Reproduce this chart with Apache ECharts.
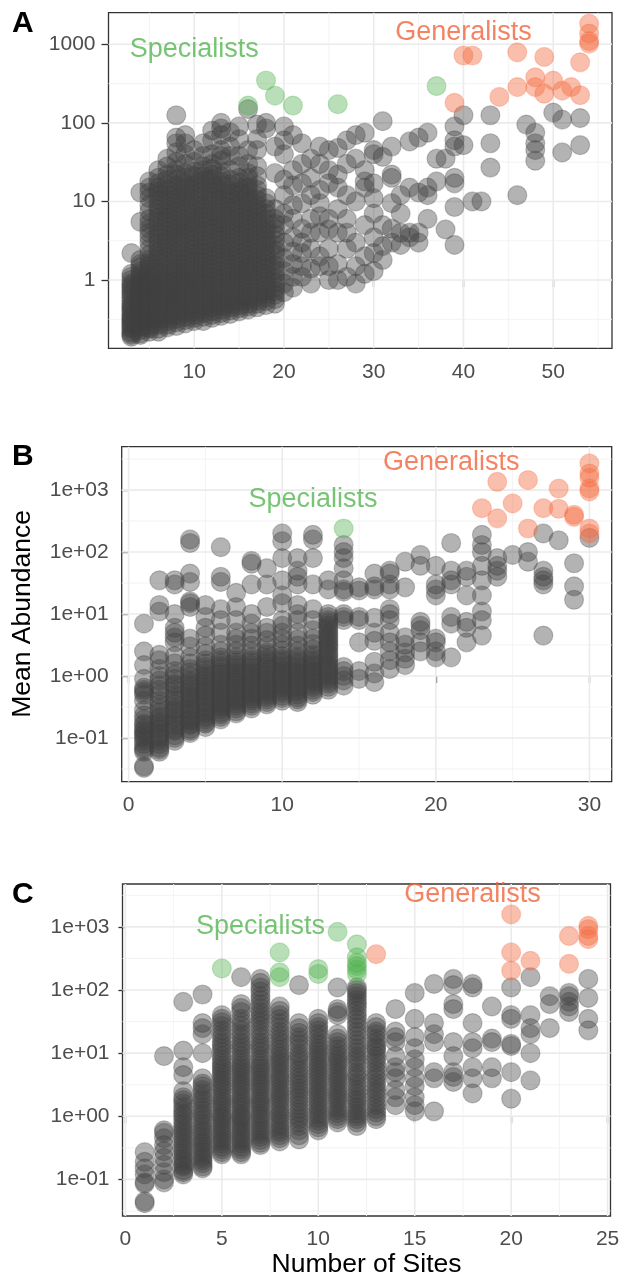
<!DOCTYPE html>
<html>
<head>
<meta charset="utf-8">
<script src="https://cdn.jsdelivr.net/npm/echarts@6/dist/echarts.min.js"></script>
<style>html,body{margin:0;padding:0;background:#fff}#c{width:630px;height:1285px}</style>
</head>
<body>
<div id="c"></div>
<script>
// ---------------- Panel A data (Number of Sites, Mean Abundance) ----------------
const greyA = [
  [3, [0.19,0.2,0.21,0.22,0.24,0.25,0.27,0.28,0.3,0.32,0.33,0.35,0.37,0.4,0.42,0.45,0.48,0.5,0.55,0.6,0.65,0.7,0.75,0.8,0.85,0.9,1.0,1.1,1.2,2.2]],
  [4, [0.2,0.21,0.23,0.25,0.26,0.28,0.3,0.33,0.35,0.38,0.4,0.43,0.46,0.5,0.52,0.56,0.6,0.65,0.7,0.75,0.8,0.88,0.95,1.0,1.1,1.2,1.3,1.45,1.6,1.8,5.5,13]],
  [5, [0.22,0.24,0.25,0.27,0.3,0.32,0.35,0.38,0.42,0.46,0.5,0.55,0.6,0.65,0.7,0.78,0.85,0.92,1.0,1.1,1.2,1.35,1.5,1.65,1.8,2.1,2.5,3,3.5,4,4.5,5.2,6,7.5,9,11,13,15,18]],
  [6, [0.22,0.24,0.27,0.3,0.33,0.36,0.4,0.45,0.5,0.55,0.6,0.67,0.75,0.82,0.9,1.0,1.1,1.25,1.4,1.6,1.8,2.05,2.3,2.6,3,3.5,4,4.7,5.5,6.2,7,8,9,10.5,12,13.5,15,17,20,25]],
  [7, [0.25,0.27,0.3,0.33,0.36,0.4,0.45,0.5,0.55,0.6,0.65,0.72,0.8,0.9,1,1.1,1.2,1.35,1.5,1.75,2,2.3,2.6,3,3.3,3.7,4.2,4.8,5.5,6.2,7,8,9,10.5,12,14,16,19,22,28,35]],
  [8, [0.26,0.29,0.32,0.36,0.4,0.45,0.5,0.55,0.6,0.67,0.75,0.82,0.9,1,1.1,1.25,1.4,1.6,1.8,2,2.3,2.6,3,3.5,4,4.5,5,5.7,6.5,7.5,8.5,9.7,11,12.5,14,16,19,22,25,32,42,55,65,125]],
  [9, [0.28,0.31,0.34,0.38,0.42,0.47,0.52,0.58,0.65,0.72,0.8,0.9,1,1.1,1.25,1.4,1.6,1.8,2,2.3,2.6,3,3.4,3.9,4.4,5,5.7,6.5,7.5,8.7,10,11.5,13,15,17,20,23,30,40,55,70]],
  [10, [0.3,0.33,0.36,0.4,0.45,0.5,0.55,0.62,0.7,0.77,0.85,0.95,1.05,1.15,1.3,1.5,1.7,1.9,2.2,2.5,2.8,3.2,3.6,4.1,4.7,5.3,6,7,8,9.2,10.5,12,14,16,18,21,24,32,45]],
  [11, [0.3,0.34,0.38,0.42,0.47,0.53,0.6,0.67,0.75,0.85,0.95,1.05,1.2,1.35,1.5,1.7,1.9,2.2,2.5,2.8,3.2,3.7,4.2,4.8,5.5,6.2,7,8,9,10.5,12,14,16,18.5,21,25,28,38,55]],
  [12, [0.33,0.36,0.4,0.45,0.5,0.56,0.62,0.7,0.78,0.88,1,1.1,1.25,1.4,1.6,1.8,2,2.3,2.6,3,3.4,3.9,4.4,5,5.7,6.5,7.5,8.7,10,11.5,13,15,17,19.5,22,26,30,40,60,80]],
  [13, [0.35,0.38,0.42,0.47,0.52,0.58,0.65,0.73,0.82,0.92,1.05,1.15,1.3,1.5,1.7,1.95,2.2,2.5,2.8,3.2,3.6,4.1,4.7,5.3,6,7,8,9.2,10.5,12,14,16,18,21,24,33,38,45,70,85,100]],
  [14, [0.37,0.41,0.45,0.5,0.55,0.62,0.7,0.78,0.88,1,1.1,1.25,1.4,1.6,1.8,2.05,2.3,2.6,3,3.4,3.9,4.4,5,5.7,6.5,7.5,8.5,9.7,11,12.5,14,16.5,19,25,38,50,76]],
  [15, [0.4,0.44,0.48,0.54,0.6,0.67,0.75,0.85,0.95,1.07,1.2,1.35,1.5,1.7,1.9,2.2,2.5,2.8,3.2,3.7,4.2,4.8,5.4,6.2,7,8,9,10.5,12,13.5,15,17.5,20,28,38,62,90]],
  [16, [0.42,0.46,0.5,0.56,0.62,0.7,0.8,0.9,1,1.15,1.3,1.45,1.6,1.85,2.1,2.4,2.7,3.1,3.5,4,4.5,5.1,5.8,6.6,7.5,8.7,10,11.5,13,15,17,20,23,30,45,150]],
  [17, [0.45,0.5,0.55,0.62,0.7,0.8,0.9,1,1.15,1.3,1.5,1.7,1.9,2.2,2.5,2.8,3.2,3.7,4.2,4.8,5.5,6.2,7,8,9,10.5,12,14,16,21,28,45,62,95]],
  [18, [0.48,0.54,0.6,0.67,0.75,0.85,0.95,1.07,1.2,1.4,1.6,1.8,2,2.3,2.7,3.1,3.5,4,4.5,5.2,6,7,8,9.5,11,85,100]],
  [19, [0.5,0.57,0.65,0.72,0.8,0.92,1.05,1.2,1.35,1.55,1.8,2.1,2.4,2.8,3.2,3.8,4.5,5.2,6,8,23,50]],
  [20, [0.7,0.9,1.3,1.9,3,5,7,12,19,40,60,90]],
  [21, [0.8,1.1,1.6,2.3,3.5,6,9,16,25,70]],
  [22, [1.1,1.5,2.2,3,4.5,9.5,17,30,55]],
  [23, [0.9,1.4,2.5,4,6,12,20,35]],
  [24, [1.5,2,4,6.5,9.5,14,30,50]],
  [25, [1,1.5,2.5,4.4,6,17,25,45]],
  [26, [1,1.6,4,8,15,22,48]],
  [27, [1.1,2.5,4,6,12,30,60]],
  [28, [0.9,1.5,3,10,35,70]],
  [29, [1.2,2,5,15,18,25,75]],
  [30, [1.3,2.2,3.5,7,11,17,40,45]],
  [31, [1.8,2.7,5,37,105]],
  [32, [3,4.5,9.5,20,22,50]],
  [33, [2.8,4,7,12]],
  [34, [3.5,4,15,58]],
  [35, [3,4,13,65]],
  [36, [6,12,15,75]],
  [37, [18,35]],
  [38, [4.4,35]],
  [39, [2.8,8.5,17,20,50,60,90]],
  [40, [52,125]],
  [41, [10]],
  [42, [10]],
  [43, [27,55,125]],
  [46, [12]],
  [47, [95]],
  [48, [33,45,55,75]],
  [50, [135]],
  [51, [42,110]],
  [53, [52,115]]
];
const specialistsA = [[16,166],[18,346],[19,222],[21,166],[26,173],[37,294]];
const generalistsA = [[39,180],[40,720],[41,720],[44,214],[46,790],[46,285],[48,380],[48,285],
  [49,690],[49,235],[50,345],[51,257],[52,285],[53,225],[53,590],[54,1830],[54,1370],[54,1100],[54,1020]];

// ---------------- Panel B data ----------------
const greyB = [
  [1, [0.033,0.035,0.06,0.065,0.07,0.08,0.09,0.1,0.11,0.12,0.13,0.14,0.16,0.17,0.2,0.23,0.28,0.4,0.5,0.55,0.6,0.65,0.9,1.5,2.5,7]],
  [2, [0.06,0.065,0.07,0.08,0.09,0.1,0.11,0.12,0.14,0.15,0.17,0.18,0.2,0.22,0.26,0.3,0.35,0.4,0.5,0.6,0.7,0.85,1,1.3,1.8,2.2,11,14,35]],
  [3, [0.09,0.1,0.11,0.13,0.14,0.16,0.18,0.2,0.22,0.25,0.28,0.3,0.35,0.4,0.45,0.5,0.6,0.7,0.75,0.9,1.05,1.2,1.6,2.1,3.5,4.2,5,6,10,30,35]],
  [4, [0.12,0.13,0.14,0.16,0.17,0.19,0.2,0.23,0.25,0.28,0.3,0.34,0.38,0.42,0.46,0.5,0.56,0.63,0.7,0.78,0.85,1,1.15,1.3,1.6,2,3,4,13,15,16,33,45,140,160]],
  [5, [0.15,0.17,0.18,0.2,0.22,0.25,0.27,0.3,0.33,0.37,0.4,0.45,0.5,0.55,0.6,0.67,0.75,0.82,0.9,1,1.1,1.25,1.4,1.6,1.8,2.3,3,4.5,6,9,14]],
  [6, [0.2,0.22,0.24,0.26,0.29,0.32,0.35,0.38,0.42,0.46,0.5,0.55,0.6,0.66,0.72,0.8,0.87,0.95,1.05,1.15,1.3,1.45,1.6,1.8,2,2.5,3.2,5,8,12,33,40,120]],
  [7, [0.25,0.27,0.3,0.33,0.36,0.4,0.43,0.47,0.52,0.57,0.63,0.7,0.76,0.84,0.92,1,1.1,1.2,1.35,1.5,1.65,1.8,2,2.5,3.2,4,5,8,13,22]],
  [8, [0.3,0.33,0.36,0.4,0.43,0.47,0.52,0.57,0.63,0.7,0.76,0.84,0.92,1,1.1,1.2,1.35,1.5,1.65,1.8,2,2.5,3.1,4,5,7,10,30,65,72]],
  [9, [0.35,0.38,0.42,0.46,0.5,0.55,0.6,0.66,0.73,0.8,0.88,0.96,1.05,1.15,1.3,1.45,1.6,1.8,1.95,2.2,2.4,3,3.8,5,6,13,30,55]],
  [10, [0.4,0.44,0.48,0.53,0.58,0.64,0.7,0.77,0.84,0.92,1,1.1,1.2,1.3,1.45,1.6,1.75,1.9,2.1,2.6,3.2,4,5,6.5,8,15,20,35,80,150,200]],
  [11, [0.38,0.42,0.45,0.5,0.55,0.6,0.66,0.73,0.8,0.88,0.96,1.05,1.15,1.25,1.4,1.55,1.7,1.9,2.05,2.5,3.1,3.9,5,8,10,14,30,40,50,80]],
  [12, [0.5,0.55,0.6,0.66,0.72,0.8,0.87,0.95,1.05,1.15,1.25,1.4,1.5,1.65,1.8,2,2.2,2.7,3.3,4,5.5,8,12,30,80,160,190]],
  [13, [0.6,0.67,0.75,0.82,0.9,1,1.1,1.2,1.35,1.5,1.6,1.8,2,2.2,2.4,2.7,3,3.3,3.6,4,4.4,4.9,5.4,6,6.6,7.3,8,9,10,25,35]],
  [14, [0.7,0.85,1,1.2,1.4,8,9,10,23,25,35,55,80,100,130]],
  [15, [0.9,1.2,3.5,8,9,24,27]],
  [16, [0.8,1.1,1.7,3.7,5,8.7,25,28,45]],
  [17, [1.3,1.8,2.5,3.5,5,8,10,12,25,30,45,50]],
  [18, [1.5,1.9,2.4,3.2,4.2,27,70]],
  [19, [2.5,3.5,5.5,6.5,7.5,60,90]],
  [20, [2,2.5,3.5,4,20,25,30,60]],
  [21, [2,7,9,30,35,50,140]],
  [22, [3.5,6,7.5,20,40,50]],
  [23, [4.5,8,11,20,35,60,100,130,190]],
  [24, [40,50,60,80]],
  [25, [90]],
  [26, [70,100]],
  [27, [4.5,30,35,40,50,200]],
  [28, [155]],
  [29, [17,28,66]],
  [30, [170]]
];
const specialistsB = [[14,240]];
const generalistsB = [[23,510],[24,1360],[24,350],[25,610],[26,1450],[26,240],[27,510],[28,1060],
  [28,500],[29,400],[29,370],[30,2690],[30,1850],[30,1580],[30,1060],[30,950],[30,240],[30,200]];

// ---------------- Panel C data ----------------
const greyC = [
  [1, [0.042,0.045,0.085,0.09,0.12,0.15,0.19,0.27]],
  [2, [0.09,0.1,0.13,0.17,0.22,0.28,0.35,0.45,0.55,0.6,9]],
  [3, [0.12,0.13,0.14,0.16,0.17,0.19,0.21,0.23,0.26,0.29,0.32,0.36,0.4,0.45,0.5,0.56,0.62,0.7,0.78,0.88,1,1.1,1.25,1.4,1.6,1.8,2,2.5,4.5,6,11,65]],
  [4, [0.15,0.16,0.18,0.2,0.22,0.24,0.27,0.3,0.33,0.37,0.4,0.45,0.5,0.56,0.62,0.7,0.78,0.88,1,1.1,1.25,1.4,1.6,1.8,2,2.3,2.6,3,3.3,4,10,20,25,30,85]],
  [5, [0.25,0.27,0.3,0.33,0.37,0.41,0.45,0.5,0.55,0.61,0.68,0.75,0.83,0.92,1,1.1,1.25,1.4,1.55,1.7,1.9,2.1,2.4,2.7,3,3.3,3.7,4.1,4.6,5.1,5.7,6.3,7,8,9,10.5,12,13.5,15,17.5,20,23,27,31,35,40]],
  [6, [0.25,0.27,0.3,0.33,0.37,0.41,0.45,0.5,0.55,0.61,0.68,0.75,0.83,0.92,1,1.1,1.25,1.4,1.55,1.7,1.9,2.1,2.4,2.7,3,3.3,3.7,4.1,4.6,5.1,5.7,6.3,7,8,9,10.5,12,13.5,15,17.5,20,23,27,31,35,45,52,60,160]],
  [7, [0.35,0.38,0.42,0.47,0.52,0.58,0.64,0.72,0.8,0.9,1,1.1,1.25,1.4,1.55,1.7,1.9,2.1,2.4,2.7,3,3.3,3.7,4.1,4.6,5.1,5.7,6.3,7,8,9,10.5,12,13.5,15,17.5,20,23,27,31,35,40,45,52,60,70,80,95,110,130,150]],
  [8, [0.4,0.45,0.5,0.56,0.62,0.7,0.78,0.88,1,1.1,1.25,1.4,1.6,1.8,2,2.25,2.5,2.8,3.2,3.6,4,4.5,5,5.7,6.5,7.2,8,9,10,11.5,13,15,17,19.5,22,26,30,35,40,47,55]],
  [9, [0.43,0.5,0.6,0.7,0.8,0.9,1,1.15,1.3,1.5,1.7,1.95,2.2,2.5,2.8,3.2,3.6,4.1,4.6,5.3,6,7,8,9,10,12,14,16,18,21,25,30,120]],
  [10, [0.6,0.67,0.75,0.85,0.95,1.07,1.2,1.35,1.5,1.7,1.9,2.15,2.4,2.7,3,3.4,3.8,4.3,4.8,5.4,6,6.7,7.5,8.5,9.5,10.7,12,13.5,15,17.5,20,23,26,30,35]],
  [11, [0.8,0.9,1,1.12,1.25,1.4,1.6,1.8,2,2.25,2.5,2.8,3.2,3.6,4,4.5,5,5.7,6.5,7.2,8,9,10,11.5,13,15,17,20,40,45,50,110]],
  [12, [0.7,0.8,0.9,1,1.1,1.25,1.4,1.6,1.8,2,2.3,2.6,3,3.4,4,4.5,5,6,7,8,9,10.5,12,14,16,19,22,26,30,35,40,47,55,62,70,80,90,100,110]],
  [13, [0.9,1,1.15,1.3,1.5,1.7,2,2.3,2.6,3,3.4,4,4.5,5.2,6,7,8,9,10.5,12,13,15,17,20,22,26,30]],
  [14, [1.5,2,2.6,4,5,6,9,15,18,22,50]],
  [15, [1.2,1.5,2,3,4,6,8,12,18,35,90]],
  [16, [1.2,4,5,15,20,30,125]],
  [17, [3.5,4.2,5,9,15,50,60,120,150]],
  [18, [2.3,4,6,12,15,30,110,125]],
  [19, [4,6,15,17,55]],
  [20, [1.9,5,13,14,35,40,110]],
  [21, [3.7,10,20,25,40,160]],
  [22, [25,60,80]],
  [23, [45,55,65,80,90]],
  [24, [23,35,75,150]]
];
const specialistsC = [[5,220],[8,395],[8,190],[8,160],[10,215],[10,180],[11,835],[12,530],
  [12,330],[12,270],[12,240],[12,210],[12,180]];
const generalistsC = [[13,370],[20,1580],[20,395],[20,203],[21,290],[23,720],[23,260],
  [24,1040],[24,920],[24,720],[24,640]];

// ---------------- Axis ticks and labels ----------------
const xTicksA = [10,20,30,40,50];
const xMinorA = [5,15,25,35,45,55];
const xTicksB = [0,10,20,30];
const xMinorB = [5,15,25];
const xTicksC = [0,5,10,15,20,25];
const xMinorC = [2.5,7.5,12.5,17.5,22.5];
const yTicksA = [1,10,100,1000];
const yLabelsA = ['1','10','100','1000'];
const yMinorA = [0.3162,3.162,31.62,316.2];
const yTicksBC = [0.1,1,10,100,1000];
const yLabelsBC = ['1e-01','1e+00','1e+01','1e+02','1e+03'];
const yMinorBC = [0.03162,0.3162,3.162,31.62,316.2,3162];

// annotations: text, x, y
const annotText = ['Specialists','Generalists'];
const annotA = [[10,850],[40,1400]];
const annotB = [[12,700],[21,2800]];
const annotC = [[7,1000],[18,3300]];

// ---------------- build ----------------
const FONT = 'Liberation Sans';
const GREY = 'rgba(64,64,64,0.5)', GREEN = 'rgba(77,175,74,0.5)', ORANGE = 'rgba(244,109,67,0.55)';
const GREY_B = 'rgba(64,64,64,0.35)', GREEN_B = 'rgba(77,175,74,0.35)', ORANGE_B = 'rgba(244,109,67,0.35)';
const GREEN_TXT = '#55B553', ORANGE_TXT = '#F0643C';

const lg = v => Math.log10(v);
const flatCols = cols => cols.flatMap(([x, ys]) => ys.map(y => [x, lg(y)]));
const pts = arr => arr.map(([x, y]) => [x, lg(y)]);

const panels = [
  {grid:{left:108.5, top:12.7, width:503.5, height:335.6}, xr:[0.45,56.55], yr:[-0.869,3.402],
   xt:xTicksA, xm:xMinorA, yt:yTicksA, yl:yLabelsA, ym:yMinorA, grey:greyA, spec:specialistsA, gen:generalistsA, ann:annotA},
  {grid:{left:121.7, top:446.7, width:490, height:335}, xr:[-0.45,31.45], yr:[-1.705,3.70],
   xt:xTicksB, xm:xMinorB, yt:yTicksBC, yl:yLabelsBC, ym:yMinorBC, grey:greyB, spec:specialistsB, gen:generalistsB, ann:annotB},
  {grid:{left:122.5, top:884, width:488, height:332}, xr:[-0.15,25.15], yr:[-1.58,3.68],
   xt:xTicksC, xm:xMinorC, yt:yTicksBC, yl:yLabelsBC, ym:yMinorBC, grey:greyC, spec:specialistsC, gen:generalistsC, ann:annotC}
];

const grids = [], xAxes = [], yAxes = [], series = [];
panels.forEach((p, i) => {
  grids.push(Object.assign({show:true, backgroundColor:'#fff', borderColor:'#333333', borderWidth:1.3, containLabel:false}, p.grid));
  const labelStyle = {color:'#4D4D4D', fontSize:21, fontFamily:FONT};
  xAxes.push({type:'value', gridIndex:i, min:p.xr[0], max:p.xr[1],
    axisLine:{show:false}, splitLine:{show:false}, minorSplitLine:{show:false}, axisPointer:{show:false},
    axisTick:{show:true, customValues:p.xt, length:7, lineStyle:{color:'#333333', width:1.3}},
    axisLabel:Object.assign({customValues:p.xt, margin:13}, labelStyle)});
  const ytv = p.yt.map(lg);
  yAxes.push({type:'value', gridIndex:i, min:p.yr[0], max:p.yr[1],
    axisLine:{show:false}, splitLine:{show:false}, minorSplitLine:{show:false}, axisPointer:{show:false},
    axisTick:{show:true, customValues:ytv, length:7, lineStyle:{color:'#333333', width:1.3}},
    axisLabel:Object.assign({customValues:ytv, margin:13,
      formatter: v => { const k = ytv.findIndex(t => Math.abs(t - v) < 1e-6); return k >= 0 ? p.yl[k] : ''; }}, labelStyle)});
  // gridlines: [orientation (0 vertical / 1 horizontal), value, major flag]
  const gl = [];
  p.xm.forEach(v => gl.push([0, v, 0]));
  p.ym.filter(v => lg(v) > p.yr[0] && lg(v) < p.yr[1]).forEach(v => gl.push([1, lg(v), 0]));
  p.xt.forEach(v => gl.push([0, v, 1]));
  p.yt.forEach(v => gl.push([1, lg(v), 1]));
  series.push({type:'custom', xAxisIndex:i, yAxisIndex:i, zlevel:0, z:1, silent:true, animation:false,
    data:gl, encode:{x:-1, y:-1},
    renderItem:(params, api) => {
      const cs = params.coordSys;
      const o = api.value(0), v = api.value(1), major = api.value(2) === 1;
      let shape;
      if (o === 0) { const x = api.coord([v, p.yr[0]])[0]; shape = {x1:x, y1:cs.y, x2:x, y2:cs.y + cs.height}; }
      else { const y = api.coord([p.xr[0], v])[1]; shape = {x1:cs.x, y1:y, x2:cs.x + cs.width, y2:y}; }
      return {type:'line', shape:shape, z2: major ? 1 : 0,
        style:{stroke: major ? '#EBEBEB' : '#F2F2F2', lineWidth: major ? 1.6 : 0.9}};
    }});
  const common = {type:'scatter', xAxisIndex:i, yAxisIndex:i, symbol:'circle', symbolSize:19, zlevel:1,
    silent:true, animation:false, progressive:0, clip:true};
  series.push(Object.assign({}, common, {z:10, data:flatCols(p.grey),
    itemStyle:{color:GREY, borderColor:GREY_B, borderWidth:1.2}}));
  series.push(Object.assign({}, common, {z:11, data:pts(p.spec),
    itemStyle:{color:GREEN, borderColor:GREEN_B, borderWidth:1.2}}));
  series.push(Object.assign({}, common, {z:11, data:pts(p.gen),
    itemStyle:{color:ORANGE, borderColor:ORANGE_B, borderWidth:1.2}}));
  p.ann.forEach(([ax, ay], k) => {
    series.push({type:'scatter', xAxisIndex:i, yAxisIndex:i, zlevel:1, z:12, silent:true, animation:false,
      symbolSize:1, itemStyle:{color:'rgba(0,0,0,0)'}, data:[[ax, lg(ay)]],
      label:{show:true, position:'inside', formatter:annotText[k], fontSize:27, fontFamily:FONT,
        color: k === 0 ? GREEN_TXT : ORANGE_TXT}});
  });
});

const chart = echarts.init(document.getElementById('c'), null, {renderer:'canvas', width:630, height:1285});
chart.setOption({
  animation:false,
  backgroundColor:'#fff',
  tooltip:{show:false},
  grid:grids, xAxis:xAxes, yAxis:yAxes, series:series,
  graphic:[
    {type:'text', left:12, top:9, style:{text:'A', font:'bold 30px "Liberation Sans"', fill:'#000'}},
    {type:'text', left:12, top:442, style:{text:'B', font:'bold 30px "Liberation Sans"', fill:'#000'}},
    {type:'text', left:12, top:880, style:{text:'C', font:'bold 30px "Liberation Sans"', fill:'#000'}},
    {type:'text', x:23, y:614, rotation:Math.PI/2,
      style:{text:'Mean Abundance', font:'26.5px "Liberation Sans"', fill:'#000', textAlign:'center', textVerticalAlign:'middle'}},
    {type:'text', x:366.5, y:1265,
      style:{text:'Number of Sites', font:'26.5px "Liberation Sans"', fill:'#000', textAlign:'center', textVerticalAlign:'middle'}}
  ]
});
</script>
</body>
</html>
